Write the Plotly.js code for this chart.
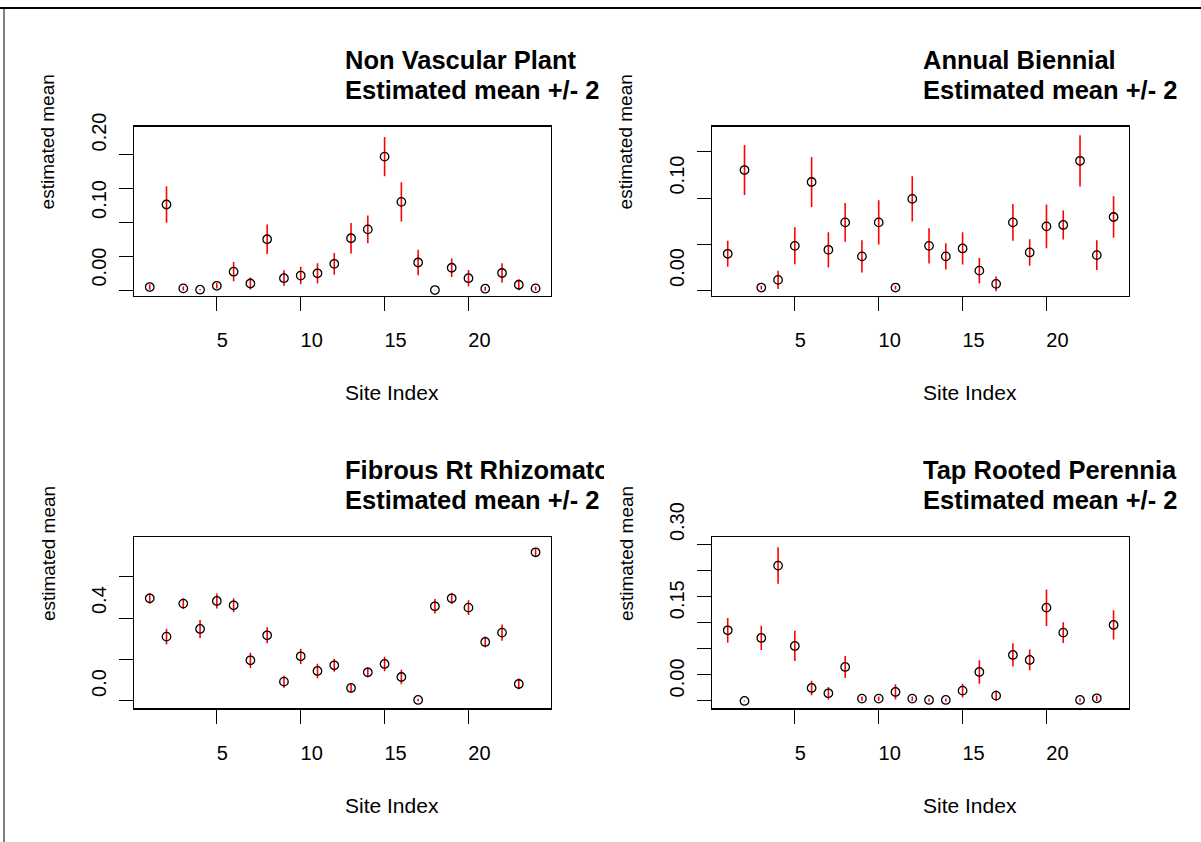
<!DOCTYPE html>
<html>
<head>
<meta charset="utf-8">
<script src="https://cdn.plot.ly/plotly-3.0.1.min.js"></script>
<style>
html, body { margin: 0; padding: 0; background: #ffffff; }
#chart { width: 1201px; height: 842px; }
</style>
</head>
<body>
<div id="chart"></div>
<script>
// ---------------- data ----------------
const siteIndex = [1,2,3,4,5,6,7,8,9,10,11,12,13,14,15,16,17,18,19,20,21,22,23,24];
const xTickVals = [5,10,15,20];
const xTickLabels = ['5','10','15','20'];

const panelTitles = ['Non Vascular Plant', 'Annual Biennial', 'Fibrous Rt Rhizomatous', 'Tap Rooted Perennial'];
const subTitle = 'Estimated mean +/- 2';
const xTitle = 'Site Index';
const yTitle = 'estimated mean';

// Non Vascular Plant
const nvMean = [0.0044,0.1267,0.0024,0.0005,0.0063,0.0272,0.0097,0.0752,0.0175,0.0214,0.0248,0.0388,0.0767,0.0898,0.1976,0.1306,0.0408,0.0000,0.0330,0.0175,0.0020,0.0252,0.0078,0.0024];
const nvHalf = [0.0040,0.0270,0.0030,0.0010,0.0040,0.0143,0.0090,0.0220,0.0117,0.0130,0.0150,0.0160,0.0226,0.0204,0.0290,0.0290,0.0190,0.0005,0.0136,0.0120,0.0030,0.0143,0.0080,0.0030];
const nvTickVals = [0,0.05,0.10,0.15,0.20];
const nvTickText = ['0.00','','0.10','','0.20'];

// Annual Biennial
const abMean = [0.0397,0.1303,0.0032,0.0115,0.0483,0.1174,0.0440,0.0737,0.0369,0.0737,0.0032,0.0991,0.0483,0.0369,0.0455,0.0215,0.0072,0.0737,0.0412,0.0694,0.0709,0.1403,0.0383,0.0795];
const abHalf = [0.0140,0.0270,0.0020,0.0100,0.0200,0.0270,0.0190,0.0210,0.0175,0.0240,0.0020,0.0245,0.0190,0.0143,0.0174,0.0138,0.0080,0.0200,0.0143,0.0236,0.0157,0.0277,0.0160,0.0224];
const abTickVals = [0,0.05,0.10,0.15];
const abTickText = ['0.00','','0.10',''];

// Fibrous Rt Rhizomatous
const frMean = [0.4956,0.3105,0.4700,0.3475,0.4827,0.4618,0.1963,0.3170,0.0933,0.2156,0.1448,0.1722,0.0628,0.1384,0.1786,0.1158,0.0048,0.4570,0.4956,0.4505,0.2848,0.3300,0.0820,0.7176];
const frHalf = [0.026,0.038,0.026,0.043,0.036,0.034,0.037,0.039,0.029,0.037,0.035,0.031,0.022,0.024,0.035,0.035,0.006,0.035,0.027,0.036,0.026,0.039,0.026,0.020];
const frTickVals = [0,0.2,0.4,0.6];
const frTickText = ['0.0','','0.4',''];

// Tap Rooted Perennial
const trMean = [0.1356,0.0000,0.1209,0.2597,0.1055,0.0249,0.0147,0.0652,0.0045,0.0045,0.0173,0.0045,0.0019,0.0019,0.0198,0.0556,0.0102,0.0883,0.0787,0.1790,0.1311,0.0019,0.0051,0.1458];
const trHalf = [0.0237,0.0010,0.0233,0.0350,0.0290,0.0138,0.0120,0.0210,0.0040,0.0040,0.0147,0.0040,0.0030,0.0030,0.0130,0.0224,0.0100,0.0224,0.0200,0.0350,0.0200,0.0030,0.0050,0.0280];
const trTickVals = [0,0.05,0.10,0.15,0.20,0.25,0.30];
const trTickText = ['0.00','','','0.15','','','0.30'];

// ---------------- layout geometry (pixels) ----------------
const W = 1201, H = 842;
const FONT = 'Liberation Sans, Arial, Helvetica, sans-serif';
const colX = [[134.3, 551.0], [712.3, 1129.0]];
const rowY = [[126.7, 295.5], [537.3, 708.3]];
const panels = [
  {mean: nvMean, half: nvHalf, tv: nvTickVals, tt: nvTickText, range: [-0.0081, 0.2419], col: 0, row: 0, title: panelTitles[0], clipW: 259},
  {mean: abMean, half: abHalf, tv: abTickVals, tt: abTickText, range: [-0.0054, 0.1772], col: 1, row: 0, title: panelTitles[1], clipW: 259},
  {mean: frMean, half: frHalf, tv: frTickVals, tt: frTickText, range: [-0.0354, 0.7900], col: 0, row: 1, title: panelTitles[2], clipW: 259},
  {mean: trMean, half: trHalf, tv: trTickVals, tt: trTickText, range: [-0.0141, 0.3140], col: 1, row: 1, title: panelTitles[3], clipW: 254}
];

const px = v => v / W;
const py = v => 1 - v / H;

const traces = [];
const layout = {
  width: W, height: H,
  margin: {l: 0, r: 0, t: 0, b: 0, pad: 0},
  paper_bgcolor: '#ffffff', plot_bgcolor: '#ffffff',
  showlegend: false,
  font: {family: FONT, color: '#000000'},
  annotations: [],
  shapes: [
    {type: 'line', xref: 'paper', yref: 'paper', x0: 0, x1: 1, y0: py(8), y1: py(8), line: {color: '#000000', width: 2}},
    {type: 'line', xref: 'paper', yref: 'paper', x0: px(4), x1: px(4), y0: 0, y1: py(8), line: {color: '#000000', width: 1}}
  ]
};

panels.forEach((p, i) => {
  const n = i + 1;
  const xa = 'xaxis' + (n === 1 ? '' : n);
  const ya = 'yaxis' + (n === 1 ? '' : n);
  const xr = 'x' + (n === 1 ? '' : n);
  const yr = 'y' + (n === 1 ? '' : n);
  const [xl, xrgt] = colX[p.col];
  const [yt, yb] = rowY[p.row];
  const longest = Math.max(...p.tt.map(s => s.length));

  traces.push({
    type: 'scatter', mode: 'markers',
    x: siteIndex, y: p.mean,
    xaxis: xr, yaxis: yr,
    marker: {symbol: 'circle-open', size: 8.5, color: '#000000', line: {width: 1.3, color: '#000000'}},
    error_y: {type: 'data', symmetric: true, array: p.half, color: '#ff0000', thickness: 1.6, width: 0},
    hoverinfo: 'x+y'
  });

  layout[xa] = {
    domain: [px(xl), px(xrgt)], anchor: yr,
    range: [0.08, 24.92], showgrid: false, zeroline: false,
    showline: true, mirror: true, linecolor: '#000000', linewidth: 1.3,
    ticks: 'outside', ticklen: 14, tickwidth: 1, tickcolor: '#000000',
    tickvals: xTickVals,
    ticktext: xTickLabels.map(s => s.length === 1 ? s + '\u00a0\u00a0' : s),
    tickfont: {family: FONT, size: 20, color: '#000000'},
    ticklabelshift: 11, ticklabelstandoff: 12
  };
  layout[ya] = {
    domain: [py(yb), py(yt)], anchor: xr,
    range: p.range, showgrid: false, zeroline: false,
    showline: true, mirror: true, linecolor: '#000000', linewidth: 1.3,
    ticks: 'outside', ticklen: 14, tickwidth: 1, tickcolor: '#000000',
    tickvals: p.tv, ticktext: p.tt, tickangle: -90,
    tickfont: {family: FONT, size: 20, color: '#000000'},
    ticklabelshift: -longest * 5.0, ticklabelstandoff: 5
  };

  const cx = (xl + xrgt) / 2;
  const cy = (yt + yb) / 2;
  // panel titles (two lines), left-anchored at the plot centre, clipped at the figure region edge
  layout.annotations.push({
    xref: 'paper', yref: 'paper', x: px(cx), y: py(yt - 67), xanchor: 'left', yanchor: 'middle',
    text: '<b>' + p.title + '</b>', showarrow: false, align: 'left', width: p.clipW,
    font: {family: FONT, size: 25.5, color: '#000000'}
  });
  layout.annotations.push({
    xref: 'paper', yref: 'paper', x: px(cx), y: py(yt - 37), xanchor: 'left', yanchor: 'middle',
    text: '<b>' + subTitle + '</b>', showarrow: false, align: 'left', width: 263,
    font: {family: FONT, size: 25.5, color: '#000000'}
  });
  // x axis title
  layout.annotations.push({
    xref: 'paper', yref: 'paper', x: px(cx), y: py(yb + 97), xanchor: 'left', yanchor: 'middle',
    text: xTitle, showarrow: false,
    font: {family: FONT, size: 21, color: '#000000'}
  });
  // y axis title
  layout.annotations.push({
    xref: 'paper', yref: 'paper', x: px(xl - 86.5), y: py(cy), xanchor: 'center', yanchor: 'bottom',
    text: yTitle, showarrow: false, textangle: -90,
    font: {family: FONT, size: 19, color: '#000000'}
  });
});

Plotly.newPlot('chart', traces, layout, {displayModeBar: false, staticPlot: true});
</script>
</body>
</html>
